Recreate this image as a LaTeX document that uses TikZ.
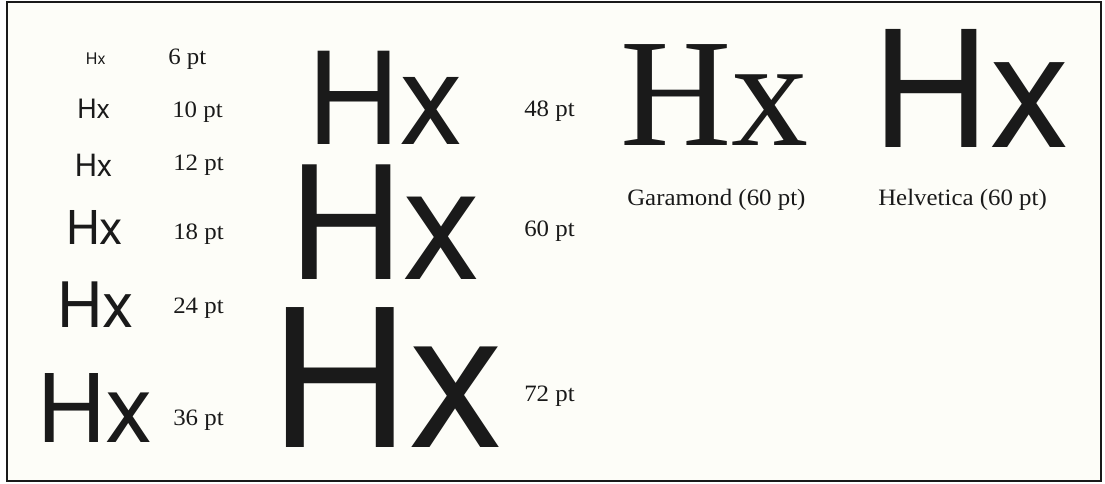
\documentclass[tikz,border=0pt]{standalone}
\usepackage{fontspec}
\setmainfont{Liberation Serif}
\newfontfamily\helv{TeX Gyre Heros}
\newfontfamily\lblfont[FakeStretch=1.06]{Liberation Serif}
\definecolor{paper}{HTML}{FDFDF8}
\definecolor{ink}{HTML}{1A1A1A}

\begin{document}
\begin{tikzpicture}[x=0.75pt, y=-0.75pt, inner sep=0pt, text=ink,
    hx/.style={anchor=base west, text depth=0pt},
    lbl/.style={anchor=base west, font=\lblfont\fontsize{17.6}{20}\selectfont}]
    \useasboundingbox (0,0) rectangle (1105,484);

    % 外框
    \draw[line width=1.5pt, draw=ink, fill=paper] (7,2) rectangle (1101,481);

    % 各字号的 Hx 及其标注
    \foreach \n/\s/\hx/\hy/\lx/\ly in {6/12/85.7/65/168/65, 10/20/77/119/172/118,
        12/23/74.5/177/173/171, 18/35/66/245/173/240, 24/47/57/327/173/313,
        36/71/37/442/173/425, 48/96/307/145/524/117, 60/118/289/280/524/237,
        72/144/270/447/524/401} {
        \pgfmathsetmacro\capht{0.72*\s}
        \node[hx, text height=\capht pt, font=\helv\fontsize{\s}{\s}\selectfont]
            (hx\n) at (\hx,\hy) {Hx};
        \node[lbl] (pt\n) at (\lx,\ly) {\n\ pt};
    }

    % Garamond 与 Helvetica 对比
    \node[hx, text height=75pt, font=\fontsize{115.6}{116}\selectfont]
        (garamond) at (620,146) {Hx};
    \node[hx, text height=87pt, font=\helv\fontsize{121.5}{122}\selectfont]
        (helvetica) at (872,148) {Hx};
    \node[lbl] (garamondlbl) at (627,206) {Garamond (60 pt)};
    \node[lbl] (helveticalbl) at (878,206) {Helvetica (60 pt)};
\end{tikzpicture}
\end{document}
